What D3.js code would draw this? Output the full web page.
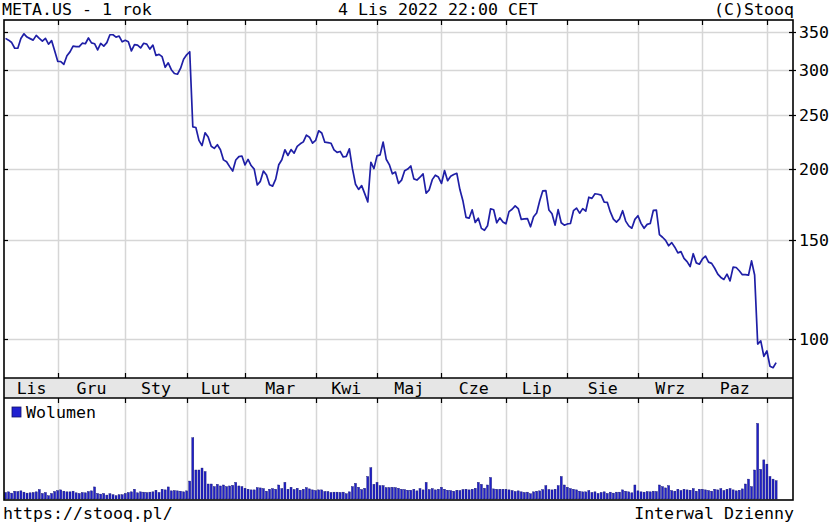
<!DOCTYPE html>
<html>
<head>
<meta charset="utf-8">
<script src="https://cdn.jsdelivr.net/npm/d3@7.9.0/dist/d3.min.js"></script>
<style>
  body { margin: 0; background: #fff; }
  svg text { font-family: "DejaVu Sans Mono", monospace; font-size: 16.6px; fill: #000; }
</style>
</head>
<body>
<svg id="chart" width="830" height="524"></svg>
<script>
// month labels on the axis band (last one is the short Nov 2022 stub, not labelled)
const monthLabels = ['Lis', 'Gru', 'Sty', 'Lut', 'Mar', 'Kwi', 'Maj', 'Cze', 'Lip', 'Sie', 'Wrz', 'Paz', ''];

// daily closes, one array per month (trading days only)
const closeLis21 = [341.13, 338.62, 335.37, 327.64, 327.74, 340.89, 347.56, 342.96, 340.77, 338.69, 345.30, 341.01, 337.25, 341.06, 333.12, 338.03, 324.46];
const closeGru = [310.60, 310.39, 306.84, 317.87, 322.81, 330.56, 329.82, 329.75, 334.49, 333.74, 341.66, 334.90, 333.79, 325.45, 334.20, 330.45, 335.24, 346.18, 346.22, 342.94, 344.36, 336.35];
const closeSty = [338.54, 336.53, 324.17, 332.46, 331.79, 328.07, 334.37, 333.26, 326.48, 331.90, 318.15, 319.59, 316.56, 303.17, 308.71, 300.15, 295.50, 294.64, 301.71, 313.26];
const closeLut = [319.00, 323.00, 237.76, 237.09, 224.91, 220.18, 232.00, 228.07, 219.55, 217.70, 221.00, 216.54, 207.71, 206.16, 202.08, 198.45, 207.60, 210.48, 211.03];
const closeMar = [203.49, 208.11, 202.97, 200.06, 187.47, 190.29, 198.50, 195.21, 187.61, 186.63, 192.03, 203.63, 207.84, 216.49, 211.49, 216.65, 213.46, 219.57, 221.82, 223.59, 229.86, 227.85, 222.36];
const closeKwi = [224.85, 233.89, 231.83, 223.30, 222.95, 222.33, 216.46, 214.14, 214.99, 210.18, 210.77, 217.31, 200.42, 188.07, 184.11, 186.99, 180.95, 174.95, 205.73, 200.47];
const closeMaj = [211.13, 212.03, 223.41, 208.28, 203.77, 196.21, 197.65, 188.74, 191.24, 198.62, 200.04, 202.62, 192.24, 191.29, 193.54, 196.23, 181.28, 183.83, 191.63, 195.13, 193.64];
const closeCze = [188.64, 198.86, 190.78, 194.25, 195.65, 196.64, 184.00, 175.57, 164.26, 163.73, 169.35, 160.87, 163.74, 157.05, 155.85, 158.75, 170.16, 169.49, 160.68, 163.94, 161.25];
const closeLip = [160.03, 168.19, 169.77, 172.19, 170.25, 162.88, 163.27, 163.49, 158.05, 164.70, 167.23, 175.78, 183.09, 183.17, 169.27, 166.65, 159.15, 169.58, 160.72, 159.10];
const closeSie = [159.93, 160.19, 168.80, 170.57, 167.11, 170.25, 168.53, 178.34, 177.49, 180.89, 180.50, 179.89, 174.85, 174.66, 167.96, 163.05, 161.11, 163.26, 168.78, 161.78, 158.68, 157.16, 162.93];
const closeWrz = [165.36, 160.32, 157.11, 159.65, 160.19, 168.96, 169.15, 153.13, 151.47, 149.55, 146.29, 148.17, 145.44, 142.12, 142.82, 138.98, 137.14, 134.40, 141.61, 136.41, 135.68];
const closePaz = [138.61, 140.28, 136.84, 136.14, 133.45, 130.33, 128.54, 127.50, 130.29, 126.76, 134.04, 133.86, 132.10, 130.01, 130.01, 129.72, 137.51, 129.82, 97.94, 99.20, 93.16];
const closeLis22 = [95.20, 89.45, 88.91, 90.79];

// daily volume in millions of shares
const volLis21 = [20, 22, 18, 24, 23, 25, 21, 18, 19, 20, 22, 29, 17, 20, 10, 17, 23];
const volGru = [26, 28, 24, 22, 22, 24, 19, 17, 20, 19, 23, 25, 37, 17, 15, 17, 12, 16, 13, 10, 13, 13];
const volSty = [17, 20, 22, 30, 19, 22, 21, 20, 21, 22, 27, 20, 30, 28, 37, 25, 26, 25, 24, 22];
const volLut = [25, 55, 188, 89, 89, 95, 84, 46, 46, 38, 45, 40, 43, 38, 40, 42, 51, 40, 38];
const volMar = [33, 30, 28, 28, 35, 34, 32, 24, 30, 32, 30, 43, 32, 51, 30, 36, 29, 33, 27, 30, 35, 31, 28];
const volKwi = [26, 28, 28, 23, 23, 20, 21, 21, 20, 21, 16, 22, 38, 48, 36, 29, 33, 69, 96, 45];
const volMaj = [51, 41, 41, 35, 35, 36, 35, 33, 30, 29, 27, 27, 30, 25, 32, 28, 51, 29, 32, 28, 30];
const volCze = [36, 30, 27, 26, 24, 27, 26, 29, 30, 28, 30, 33, 51, 45, 33, 43, 66, 31, 30, 30, 30];
const volLip = [30, 28, 26, 23, 25, 22, 20, 21, 16, 22, 24, 25, 29, 41, 29, 28, 30, 41, 69, 43];
const volSie = [36, 32, 30, 28, 24, 22, 22, 26, 20, 22, 17, 20, 22, 17, 21, 18, 21, 21, 28, 24, 22, 19, 43];
const volWrz = [25, 22, 21, 23, 22, 24, 23, 43, 38, 34, 41, 26, 24, 30, 26, 30, 28, 27, 32, 24, 30];
const volPaz = [30, 28, 26, 24, 30, 28, 32, 26, 30, 32, 28, 25, 27, 31, 46, 61, 38, 89, 232, 91, 120];
const volLis22 = [107, 69, 61, 56];

const priceTicks = [100, 150, 200, 250, 300, 350];

const closeMonths = [closeLis21, closeGru, closeSty, closeLut, closeMar, closeKwi, closeMaj, closeCze, closeLip, closeSie, closeWrz, closePaz, closeLis22];
const volMonths = [volLis21, volGru, volSty, volLut, volMar, volKwi, volMaj, volCze, volLip, volSie, volWrz, volPaz, volLis22];

// flatten into one row per trading day, remember where each month begins
const days = [];
const months = [];
closeMonths.forEach((arr, m) => {
  months.push({ label: monthLabels[m], start: days.length, end: days.length + arr.length - 1 });
  arr.forEach((c, j) => days.push({ i: days.length, close: c, vol: volMonths[m][j] }));
});

const plotLeft = 4, plotRight = 793, plotTop = 20;
const plotBottom = 378, bandBottom = 398, volBottom = 500;
const gridColor = '#d6d6d6';

const svg = d3.select('#chart');

const x = d3.scaleLinear().domain([-0.5, 256.5]).range([plotLeft, plotRight]);
const y = d3.scaleLog().domain([85.26, 367.7]).range([plotBottom, plotTop]);
const yv = d3.scaleLinear().domain([0, 310]).range([volBottom - 1, bandBottom]);

const monthStarts = months.slice(1).map(m => m.start);

// grid lines
svg.append('g')
  .selectAll('line')
  .data(priceTicks)
  .join('line')
  .attr('x1', plotLeft).attr('x2', plotRight)
  .attr('y1', d => Math.round(y(d)) + 0.5).attr('y2', d => Math.round(y(d)) + 0.5)
  .attr('stroke', gridColor).attr('stroke-width', 1.5);

[[plotTop, plotBottom], [bandBottom, volBottom]].forEach(([y1, y2]) => {
  svg.append('g')
    .selectAll('line')
    .data(monthStarts)
    .join('line')
    .attr('x1', d => Math.round(x(d)) + 0.5).attr('x2', d => Math.round(x(d)) + 0.5)
    .attr('y1', y1).attr('y2', y2)
    .attr('stroke', gridColor).attr('stroke-width', 1.5);
});

// price line
const line = d3.line()
  .x(d => x(d.i))
  .y(d => y(d.close));

svg.append('path')
  .datum(days)
  .attr('d', line)
  .attr('fill', 'none')
  .attr('stroke', '#1f1fa6')
  .attr('stroke-width', 1.7)
  .attr('stroke-linejoin', 'round');

// volume bars
svg.append('g')
  .selectAll('rect')
  .data(days)
  .join('rect')
  .attr('x', d => x(d.i) - 1)
  .attr('width', 2)
  .attr('y', d => yv(d.vol))
  .attr('height', d => yv(0) - yv(d.vol))
  .attr('fill', '#2020c8')
  .attr('stroke', '#10106a')
  .attr('stroke-width', 0.4);

// axis band between the two panels
svg.append('rect')
  .attr('x', plotLeft).attr('y', plotBottom)
  .attr('width', plotRight - plotLeft).attr('height', bandBottom - plotBottom)
  .attr('fill', '#e6e6e6');

svg.append('g')
  .selectAll('text')
  .data(months.filter(m => m.label))
  .join('text')
  .attr('x', m => (x(m.start) + x(m.end + 1)) / 2)
  .attr('y', 394)
  .attr('text-anchor', 'middle')
  .text(m => m.label);

// frames
const frame = svg.append('g').attr('stroke', '#000').attr('fill', 'none');
frame.append('rect')
  .attr('x', plotLeft).attr('y', plotTop)
  .attr('width', plotRight - plotLeft).attr('height', volBottom - plotTop)
  .attr('stroke-width', 1.6);
[plotBottom, bandBottom].forEach(yy => {
  frame.append('line').attr('x1', plotLeft).attr('x2', plotRight).attr('y1', yy).attr('y2', yy).attr('stroke-width', 1.4);
});

// ticks
const ticks = svg.append('g').attr('stroke', '#000').attr('stroke-width', 1.2);
monthStarts.forEach(i => {
  const xx = Math.round(x(i)) + 0.5;
  [[plotTop, plotTop + 5], [plotBottom - 5, plotBottom], [bandBottom, bandBottom + 5]].forEach(([a, b]) => {
    ticks.append('line').attr('x1', xx).attr('x2', xx).attr('y1', a).attr('y2', b);
  });
});
priceTicks.forEach(v => {
  const yy = Math.round(y(v)) + 0.5;
  ticks.append('line').attr('x1', plotLeft).attr('x2', plotLeft + 4).attr('y1', yy).attr('y2', yy);
  ticks.append('line').attr('x1', plotRight - 4).attr('x2', plotRight + 3).attr('y1', yy).attr('y2', yy);
});

// right axis labels
svg.append('g')
  .selectAll('text')
  .data(priceTicks)
  .join('text')
  .attr('x', 799)
  .attr('y', d => y(d) + 6)
  .text(d => d);

// legend in the volume panel
svg.append('rect')
  .attr('x', 12).attr('y', 407).attr('width', 9).attr('height', 10)
  .attr('fill', '#2020d0').attr('stroke', '#10106a').attr('stroke-width', 0.8);
svg.append('text').attr('x', 26).attr('y', 418).text('Wolumen');

// header and footer
svg.append('text').attr('x', 2).attr('y', 15).text('META.US - 1 rok');
svg.append('text').attr('x', 438).attr('y', 15).attr('text-anchor', 'middle').text('4 Lis 2022 22:00 CET');
svg.append('text').attr('x', 794).attr('y', 15).attr('text-anchor', 'end').text('(C)Stooq');
svg.append('text').attr('x', 3).attr('y', 519).text('https://stooq.pl/');
svg.append('text').attr('x', 794).attr('y', 519).attr('text-anchor', 'end').text('Interwal Dzienny');
</script>
</body>
</html>
